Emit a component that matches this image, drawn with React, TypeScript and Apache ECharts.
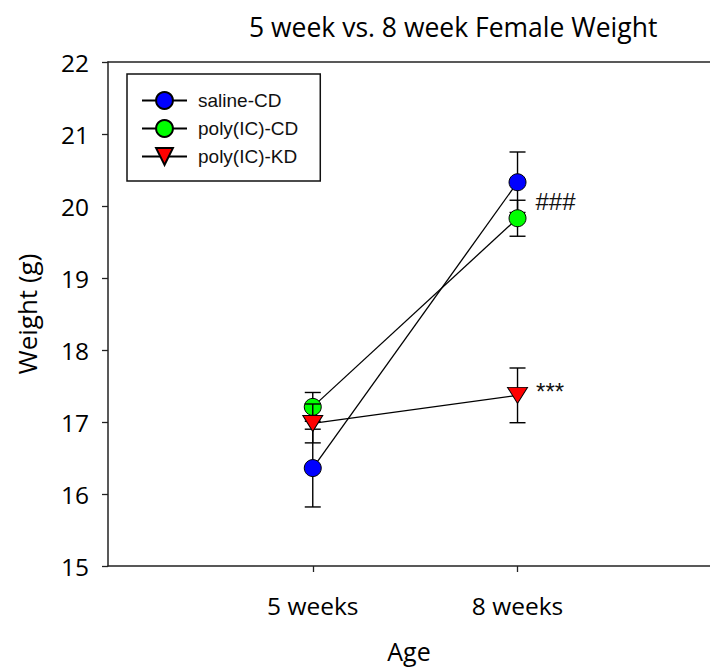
import React, { useEffect, useRef } from "react";
import * as echarts from "echarts";

const categories = ["5 weeks", "8 weeks"];
const seriesNames = ["saline-CD", "poly(IC)-CD", "poly(IC)-KD"];
const salineMean = [16.36, 20.33];
const salineErr = [0.54, 0.42];
const polyCDMean = [17.21, 19.83];
const polyCDErr = [0.2, 0.25];
const polyKDMean = [16.98, 17.37];
const polyKDErr = [0.27, 0.38];
const yTicks = [15, 16, 17, 18, 19, 20, 21, 22];
const annotations = ["###", "***"];

const fontAxis = "'Open Sans', sans-serif";
const fontLegend = "'Liberation Sans', Arial, sans-serif";

export default function App() {
  const ref = useRef<HTMLDivElement>(null);
  useEffect(() => {
    if (!ref.current) return;
    const chart = echarts.init(ref.current, undefined, { renderer: "svg" });

    const means = [salineMean, polyCDMean, polyKDMean];
    const errs = [salineErr, polyCDErr, polyKDErr];
    const colors = ["#0000FF", "#00FF00", "#FF0000"];
    const symbols = ["circle", "circle", "triangle"];
    const sizes: any[] = [17, 17, [20, 16]];
    const rotates = [0, 0, 180];

    const series: any[] = [];
    means.forEach((m, si) => {
      series.push({
        type: "custom",
        name: seriesNames[si] + " err",
        z: si * 2 + 1,
        silent: true,
        data: m.map((v, i) => [i + 1, v - errs[si][i], v + errs[si][i]]),
        encode: { x: 0, y: [1, 2] },
        renderItem: (params: any, api: any) => {
          const x = api.value(0);
          const lo = api.coord([x, api.value(1)]);
          const hi = api.coord([x, api.value(2)]);
          const hw = 8;
          const st = { stroke: "#000", lineWidth: 1.4 };
          return {
            type: "group",
            children: [
              { type: "line", shape: { x1: lo[0], y1: lo[1], x2: hi[0], y2: hi[1] }, style: st },
              { type: "line", shape: { x1: lo[0] - hw, y1: lo[1], x2: lo[0] + hw, y2: lo[1] }, style: st },
              { type: "line", shape: { x1: hi[0] - hw, y1: hi[1], x2: hi[0] + hw, y2: hi[1] }, style: st },
            ],
          };
        },
      });
      const data: any[] = m.map((v, i) => [i + 1, v]);
      if (si === 1) {
        data[1] = {
          value: [2, m[1]],
          label: {
            show: true,
            formatter: annotations[0],
            position: "right",
            distance: 9,
            offset: [0, -17],
            fontFamily: fontLegend,
            fontSize: 24,
            color: "#111",
          },
        };
      }
      if (si === 2) {
        data[1] = {
          value: [2, m[1]],
          label: {
            show: true,
            formatter: annotations[1],
            position: "right",
            distance: 8,
            offset: [0, -4],
            fontFamily: fontLegend,
            fontSize: 24,
            color: "#111",
          },
        };
      }
      series.push({
        type: "line",
        name: seriesNames[si],
        z: si * 2 + 2,
        data,
        symbol: symbols[si],
        symbolSize: sizes[si],
        symbolRotate: rotates[si],
        showAllSymbol: true,
        itemStyle: { color: colors[si], borderColor: "#000", borderWidth: 1 },
        lineStyle: { color: "#000", width: 1.3 },
        emphasis: { disabled: true },
      });
    });

    chart.setOption({
      animation: false,
      backgroundColor: "#fff",
      title: {
        text: "5 week vs. 8 week Female Weight",
        left: 244,
        top: 8,
        textStyle: { fontFamily: fontAxis, fontSize: 26.5, fontWeight: "normal", color: "#000" },
      },
      legend: {
        data: seriesNames,
        orient: "vertical",
        left: 127,
        top: 74,
        itemWidth: 45,
        itemHeight: 21,
        itemGap: 9,
        padding: [17, 22, 15, 14],
        borderColor: "#111",
        borderWidth: 1.5,
        backgroundColor: "#fff",
        textStyle: { fontFamily: fontLegend, fontSize: 19, color: "#111", padding: [0, 0, 0, 6] },
      },
      grid: {
        left: 108,
        top: 62,
        width: 602,
        height: 504,
        show: false,
      },
      xAxis: [
        {
          type: "value",
          min: 0,
          max: 2.94,
          name: "Age",
          nameLocation: "middle",
          nameGap: 72,
          nameTextStyle: { fontFamily: fontAxis, fontSize: 25, color: "#000" },
          axisLine: { show: true, lineStyle: { color: "#222", width: 1.5 } },
          axisTick: { show: true, length: 6, customValues: [1, 2], lineStyle: { color: "#222", width: 1.3 } },
          axisLabel: {
            customValues: [1, 2],
            formatter: (v: number) => categories[Math.round(v) - 1] ?? "",
            margin: 27,
            fontFamily: fontAxis,
            fontSize: 24.5,
            color: "#000",
          },
          splitLine: { show: false },
        },
        {
          type: "value",
          position: "top",
          min: 0,
          max: 2.94,
          axisLine: { show: true, lineStyle: { color: "#222", width: 1.5 } },
          axisTick: { show: false },
          axisLabel: { show: false },
          splitLine: { show: false },
        },
      ],
      yAxis: {
        type: "value",
        min: yTicks[0],
        max: yTicks[yTicks.length - 1],
        interval: 1,
        name: "Weight (g)",
        nameLocation: "middle",
        nameGap: 68,
        nameTextStyle: { fontFamily: fontAxis, fontSize: 26, color: "#000" },
        axisLine: { show: true, lineStyle: { color: "#222", width: 1.5 } },
        axisTick: { show: true, length: 6, lineStyle: { color: "#222", width: 1.3 } },
        axisLabel: { margin: 19, fontFamily: fontAxis, fontSize: 24.5, color: "#000" },
        splitLine: { show: false },
      },
      series,
    });
    return () => chart.dispose();
  }, []);
  return (
    <div
      ref={ref}
      style={{ position: "absolute", left: 0, top: 0, width: 710, height: 668 }}
    />
  );
}
